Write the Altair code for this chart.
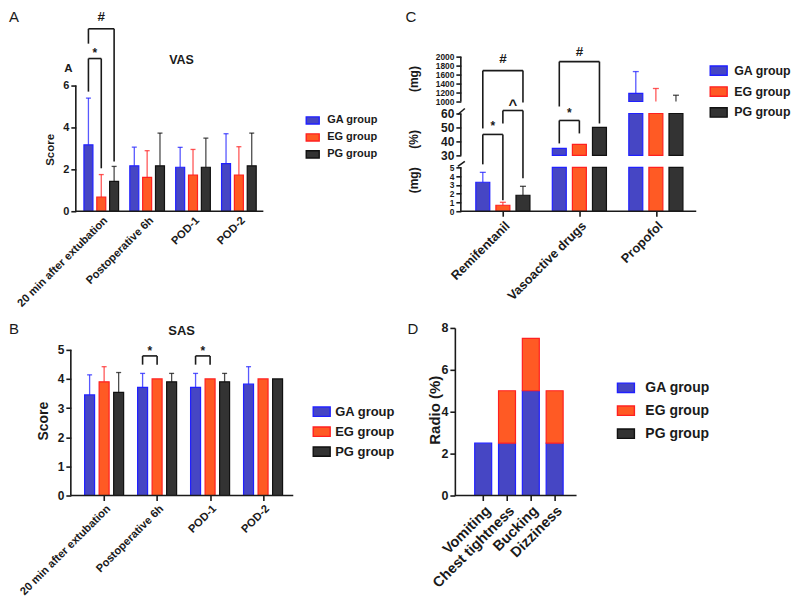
import json
import altair as alt
import pandas as pd

FONT = "Liberation Sans"
INK = "#1a1a1a"
GROUPS = ["GA group", "EG group", "PG group"]
FILL = ["#4646c4", "#ff5a24", "#333333"]
EDGE = ["#2020ff", "#ff2020", "#111111"]
RECT = "M-1,-0.55H1V0.55H-1Z"

# ---------------- Panel A : VAS ----------------
time_points = ["20 min after extubation", "Postoperative 6h", "POD-1", "POD-2"]
vas_ga = [3.17, 2.17, 2.10, 2.27]
vas_ga_sd = [2.23, 0.89, 0.95, 1.43]
vas_eg = [0.68, 1.62, 1.73, 1.73]
vas_eg_sd = [1.07, 1.27, 1.22, 1.35]
vas_pg = [1.43, 2.17, 2.10, 2.17]
vas_pg_sd = [0.71, 1.56, 1.39, 1.56]
vas_ticks = [0, 2, 4, 6]
# brackets: category, group from, group to, top, leg bottoms, label, label height
vas_br_cat = [0, 0]
vas_br_g1 = [0, 0]
vas_br_g2 = [1, 2]
vas_br_top = [7.29, 8.71]
vas_br_low1 = [5.71, 8.0]
vas_br_low2 = [2.05, 2.38]
vas_br_label = ["*", "#"]
vas_br_label_y = [7.55, 9.29]

# ---------------- Panel B : SAS ----------------
sas_ga = [3.45, 3.71, 3.71, 3.82]
sas_ga_sd = [0.69, 0.48, 0.48, 0.60]
sas_eg = [3.90, 4.00, 4.00, 4.00]
sas_eg_sd = [0.52, 0.0, 0.0, 0.0]
sas_pg = [3.54, 3.90, 3.90, 4.00]
sas_pg_sd = [0.68, 0.29, 0.29, 0.0]
sas_ticks = [0, 1, 2, 3, 4, 5]
sas_br_cat = [1, 2]
sas_br_g1 = [0, 0]
sas_br_g2 = [1, 1]
sas_br_top = [4.79, 4.79]
sas_br_low1 = [4.49, 4.49]
sas_br_low2 = [4.49, 4.49]
sas_br_label = ["*", "*"]
sas_br_label_y = [4.95, 4.95]

# ---------------- Panel C : drugs (broken axis) ----------------
drugs = ["Remifentanil", "Vasoactive drugs", "Propofol"]
drug_ga = [3.3, 35.0, 1180]
drug_ga_sd = [1.13, 0.0, 487]
drug_eg = [0.68, 37.9, 1000]
drug_eg_sd = [0.34, 0.0, 290]
drug_pg = [1.82, 50.0, 990]
drug_pg_sd = [1.02, 0.0, 150]
c_seg_lo = [0, 30, 1000]
c_seg_hi = [5, 60, 2000]
c_seg_ticks = [[0, 1, 2, 3, 4, 5], [30, 40, 50, 60], [1000, 1200, 1400, 1600, 1800, 2000]]
c_seg_title = ["(mg)", "(%)", "(mg)"]
# display extent of each axis segment (pixels from the baseline)
c_seg_y0 = [0, 56, 110]
c_seg_y1 = [44, 98, 155]
c_br_cat = [0, 0, 0, 1, 1]
c_br_g1 = [0, 1, 0, 0, 0]
c_br_g2 = [2, 2, 1, 2, 1]
c_br_top = [141, 101, 77, 150, 91]
c_br_low1 = [83, 88, 47, 105, 68]
c_br_low2 = [109, 33, 11, 88, 78]
c_br_label = ["#", "^", "*", "#", "*"]
c_br_label_y = [153, 106, 85, 160, 98]

# ---------------- Panel D : adverse events ----------------
events = ["Vomiting", "Chest tightness", "Bucking", "Dizziness"]
ae_ga = [2.5, 2.5, 5.0, 2.5]
ae_eg = [0.0, 2.5, 2.5, 2.5]
ae_pg = [0.0, 0.0, 0.0, 0.0]
ae_ticks = [0, 2, 4, 6, 8]


def c_disp(v, s):
    return c_seg_y0[s] + (v - c_seg_lo[s]) / (c_seg_hi[s] - c_seg_lo[s]) * (c_seg_y1[s] - c_seg_y0[s])


def long_table(cats, means, sds, offset):
    rows = []
    for gi, g in enumerate(GROUPS):
        for ci, c in enumerate(cats):
            m, s = means[gi][ci], sds[gi][ci]
            rows.append({"cat": c, "group": g, "gi": gi, "pos": ci + (gi - 1) * offset,
                         "val": m, "sd": s, "top": m + s})
    return pd.DataFrame(rows)


def bracket_tables(cat, g1, g2, top, low1, low2, label, label_y, offset):
    segs, labs = [], []
    for k in range(len(cat)):
        p1 = cat[k] + (g1[k] - 1) * offset
        p2 = cat[k] + (g2[k] - 1) * offset
        segs += [
            {"pos": p1, "pos2": p1, "val": low1[k], "top": top[k]},
            {"pos": p1, "pos2": p2, "val": top[k], "top": top[k]},
            {"pos": p2, "pos2": p2, "val": low2[k], "top": top[k]},
        ]
        labs.append({"pos": (p1 + p2) / 2, "val": label_y[k], "t": label[k]})
    return pd.DataFrame(segs), pd.DataFrame(labs)


fill_scale = alt.Scale(domain=GROUPS, range=FILL)
edge_scale = alt.Scale(domain=GROUPS, range=EDGE)


def legend(x, y, size, sym, rowpad, loff):
    return alt.Legend(title=None, orient="none", legendX=x, legendY=y, symbolType=RECT,
                      symbolSize=sym * sym, symbolStrokeWidth=1.4, labelFont=FONT,
                      labelFontWeight="bold", labelFontSize=size, labelColor=INK,
                      rowPadding=rowpad, labelOffset=loff, padding=0)


def x_axis(cats, size, ticks, pad=3):
    return alt.Axis(values=list(range(len(cats))), labelExpr=json.dumps(cats) + "[round(datum.value)]",
                    labelAngle=-45, labelAlign="right", labelBaseline="top", labelFont=FONT,
                    labelFontSize=size, labelFontWeight="bold", labelColor=INK, labelPadding=pad,
                    labelOverlap=False, labelFlush=False, ticks=ticks, tickSize=5, tickWidth=1.6,
                    tickColor=INK, domain=False, grid=False, title=None)


def y_axis(values, title, size, tsize, tx, ty, domain=False, offset=0, expr=None):
    kw = dict(values=values, domain=domain, grid=False, ticks=True, tickSize=5, tickWidth=1.6,
              tickColor=INK, domainColor=INK, domainWidth=1.6, labelFont=FONT,
              labelFontWeight="bold", labelFontSize=size, labelColor=INK, labelPadding=2,
              labelOverlap=False, offset=offset)
    if expr is not None:
        kw["labelExpr"] = expr
    if title:
        kw.update(title=title, titleFont=FONT, titleFontWeight="bold", titleFontSize=tsize,
                  titleColor=INK, titleX=tx, titleY=ty, titleAngle=270, titleBaseline="middle",
                  titleAlign="center")
    else:
        kw["title"] = None
    return alt.Axis(**kw)


def note(text, x, y, size, weight="bold", angle=0):
    return alt.Chart(pd.DataFrame({"t": [text]})).mark_text(
        font=FONT, fontSize=size, fontWeight=weight, color=INK, align="center",
        baseline="middle", angle=angle).encode(x=alt.value(x), y=alt.value(y), text="t:N")


class Frame:
    def __init__(self, xs, ys, xa, ya):
        self.xs, self.ys, self.xa, self.ya = xs, ys, xa, ya

    def X(self, f="pos"):
        return alt.X(f + ":Q", scale=self.xs, axis=self.xa, title=None)

    def Y(self, f="val", **kw):
        return alt.Y(f + ":Q", scale=self.ys, axis=self.ya, **kw)


def error_layers(df, fr, cap=2.5):
    err = df[df["sd"] > 0]
    stem = alt.Chart(err).mark_rule(strokeWidth=1.3, opacity=0.75).encode(
        x=fr.X(), y=fr.Y(), y2="top:Q",
        stroke=alt.Stroke("group:N", scale=edge_scale, legend=None))
    capm = alt.Chart(err).mark_rule(strokeWidth=1.3, opacity=0.75, xOffset=-cap, x2Offset=cap).encode(
        x=fr.X(), x2="pos:Q", y=fr.Y("top"),
        stroke=alt.Stroke("group:N", scale=edge_scale, legend=None))
    return [stem, capm]


def bracket_layers(segs, labs, fr):
    br = alt.Chart(segs).mark_rule(strokeWidth=1.6, color=INK).encode(
        x=fr.X(), x2="pos2:Q", y=fr.Y(), y2="top:Q")
    lab = alt.Chart(labs).mark_text(font=FONT, fontWeight="bold", color=INK, baseline="middle").encode(
        x=fr.X(), y=fr.Y(), text="t:N",
        size=alt.Size("t:N", scale=alt.Scale(domain=["*", "#", "^"], range=[12, 15, 13]), legend=None))
    return [br, lab]


def vline(lo, hi, fr, x=0):
    return alt.Chart(pd.DataFrame({"val": [lo], "top": [hi]})).mark_rule(strokeWidth=1.6, color=INK).encode(
        x=alt.value(x), y=fr.Y(), y2="top:Q")


def hline(fr, x0, x1):
    return alt.Chart(pd.DataFrame({"val": [0]})).mark_rule(strokeWidth=1.6, color=INK).encode(
        x=alt.value(x0), x2=alt.value(x1), y=fr.Y())


# ---------------- build panel A ----------------
a_df = long_table(time_points, [vas_ga, vas_eg, vas_pg], [vas_ga_sd, vas_eg_sd, vas_pg_sd], 0.28)
a_fr = Frame(alt.Scale(domain=[-0.446, 4.077], nice=False, zero=False),
             alt.Scale(domain=[0, 9], nice=False),
             x_axis(time_points, 11.2, False),
             y_axis(vas_ticks, "Score", 11, 11.5, -25, 127))
a_leg = legend(230, 90.5, 11, 13, 3, 7)
a_bars = alt.Chart(a_df).mark_bar(size=9, strokeWidth=1.2).encode(
    x=a_fr.X(), y=a_fr.Y(),
    color=alt.Color("group:N", scale=fill_scale, legend=a_leg),
    stroke=alt.Stroke("group:N", scale=edge_scale, legend=a_leg))
a_segs, a_labs = bracket_tables(vas_br_cat, vas_br_g1, vas_br_g2, vas_br_top, vas_br_low1,
                                vas_br_low2, vas_br_label, vas_br_label_y, 0.28)
panel_a = alt.layer(
    a_bars, *error_layers(a_df, a_fr), *bracket_layers(a_segs, a_labs, a_fr),
    vline(min(vas_ticks), max(vas_ticks), a_fr), hline(a_fr, 0, 188),
    note("A", -62, -6, 15, "normal"), note("VAS", 106, 37, 12.5), note("A", -7.5, 46.5, 11.5),
).properties(width=218, height=189)

# ---------------- build panel C ----------------
c_rows = []
c_err = []
for gi, (vals, sds) in enumerate([(drug_ga, drug_ga_sd), (drug_eg, drug_eg_sd), (drug_pg, drug_pg_sd)]):
    for ci, c in enumerate(drugs):
        v, sd = vals[ci], sds[ci]
        pos = ci + (gi - 1) * 0.2625
        for s in range(3):
            if v > c_seg_lo[s]:
                c_rows.append({"group": GROUPS[gi], "pos": pos, "val": c_disp(c_seg_lo[s], s),
                               "top": c_disp(min(v, c_seg_hi[s]), s)})
        if sd > 0:
            t = v + sd
            s = [k for k in range(3) if c_seg_lo[k] <= t <= c_seg_hi[k]][0]
            c_err.append({"group": GROUPS[gi], "pos": pos, "val": c_disp(max(v, c_seg_lo[s]), s),
                          "top": c_disp(t, s), "sd": sd})
c_df = pd.DataFrame(c_rows)
c_err_df = pd.DataFrame(c_err)
c_tick_pos = [c_disp(v, s) for s in range(3) for v in c_seg_ticks[s]]
parts = []
for s in range(3):
    k = (c_seg_hi[s] - c_seg_lo[s]) / (c_seg_y1[s] - c_seg_y0[s])
    parts.append(f"'' + round({c_seg_lo[s]} + (datum.value - {c_seg_y0[s]}) * {k})")
c_expr = (f"datum.value <= {c_seg_y1[0] + 2} ? {parts[0]} : "
          f"datum.value <= {c_seg_y1[1] + 2} ? {parts[1]} : {parts[2]}")
c_mid_test = f"datum.value > {c_seg_y1[0] + 2} && datum.value <= {c_seg_y1[1] + 2}"
C_AX = 6  # y axis sits 6px inside the panel frame
c_yaxis = y_axis(c_tick_pos, None, 11, 12, 0, 0, offset=-C_AX, expr=c_expr)
c_yaxis["labelFontSize"] = {"condition": {"test": c_mid_test, "value": 12}, "value": 8.4}
c_fr = Frame(alt.Scale(domain=[-0.5625, 2.4625], nice=False, zero=False),
             alt.Scale(domain=[0, 189], nice=False),
             x_axis(drugs, 12.8, True), c_yaxis)
c_leg = legend(255, 38.5, 12.4, 17, 4, 6)
c_bars = alt.Chart(c_df).mark_bar(size=14, strokeWidth=1.2).encode(
    x=c_fr.X(), y=c_fr.Y(), y2="top:Q",
    color=alt.Color("group:N", scale=fill_scale, legend=c_leg),
    stroke=alt.Stroke("group:N", scale=edge_scale, legend=c_leg))
c_axis = alt.Chart(pd.DataFrame({"val": c_seg_y0, "top": c_seg_y1})).mark_rule(
    strokeWidth=1.6, color=INK).encode(x=alt.value(C_AX), y=c_fr.Y(), y2="top:Q")
c_break = alt.Chart(pd.DataFrame({"val": [c_seg_y1[0] + 1, c_seg_y1[1] - 1],
                                  "top": [c_seg_y1[0] + 6, c_seg_y1[1] + 5]})).mark_rule(
    strokeWidth=1.6, color=INK).encode(x=alt.value(C_AX - 3), x2=alt.value(C_AX + 4),
                                       y=c_fr.Y(), y2="top:Q")
c_segs, c_labs = bracket_tables(c_br_cat, c_br_g1, c_br_g2, c_br_top, c_br_low1, c_br_low2,
                                c_br_label, c_br_label_y, 0.2625)
c_titles = [note(c_seg_title[s], -41, 189 - (c_seg_y0[s] + c_seg_y1[s]) / 2 + [-9, 5, 0][s], 12,
                 angle=270) for s in range(3)]
panel_c = alt.layer(
    c_bars, *error_layers(c_err_df, c_fr, 3), *bracket_layers(c_segs, c_labs, c_fr),
    c_axis, c_break, hline(c_fr, C_AX, 242), *c_titles, note("C", -44, -6, 15, "normal"),
).properties(width=242, height=189)

# ---------------- build panel B ----------------
b_df = long_table(time_points, [sas_ga, sas_eg, sas_pg], [sas_ga_sd, sas_eg_sd, sas_pg_sd], 0.274)
b_fr = Frame(alt.Scale(domain=[-0.44, 3.476], nice=False, zero=False),
             alt.Scale(domain=[0, 5.75], nice=False),
             x_axis(time_points, 11.2, True, pad=2),
             y_axis(sas_ticks, "Score", 12, 14, -27.5, 93, offset=5))
b_leg = legend(237, 74.5, 13, 17, 3, 4)
b_bars = alt.Chart(b_df).mark_bar(size=10, strokeWidth=1.2).encode(
    x=b_fr.X(), y=b_fr.Y(),
    color=alt.Color("group:N", scale=fill_scale, legend=b_leg),
    stroke=alt.Stroke("group:N", scale=edge_scale, legend=b_leg))
b_segs, b_labs = bracket_tables(sas_br_cat, sas_br_g1, sas_br_g2, sas_br_top, sas_br_low1,
                                sas_br_low2, sas_br_label, sas_br_label_y, 0.274)
panel_b = alt.layer(
    b_bars, *error_layers(b_df, b_fr), *bracket_layers(b_segs, b_labs, b_fr),
    vline(min(sas_ticks), max(sas_ticks), b_fr, -5), hline(b_fr, -5, 218),
    note("B", -62, 1, 15, "normal"), note("SAS", 106, 3, 13),
).properties(width=218, height=168)

# ---------------- build panel D ----------------
d_rows = []
for gi, vals in enumerate([ae_ga, ae_eg, ae_pg]):
    for ci, c in enumerate(events):
        if vals[ci] > 0:
            d_rows.append({"group": GROUPS[gi], "gi": gi, "pos": ci, "val": vals[ci]})
d_df = pd.DataFrame(d_rows)
d_fr = Frame(alt.Scale(domain=[-0.98, 3.71], nice=False, zero=False),
             alt.Scale(domain=[0, 8], nice=False),
             x_axis(events, 14.5, True),
             y_axis(ae_ticks, "Radio (%)", 12.5, 15, -20.5, 82, domain=True))
d_leg = legend(162, 50.5, 14, 17, 6, 10)
d_bars = alt.Chart(d_df).mark_bar(size=17, strokeWidth=1.2).encode(
    x=d_fr.X(), y=d_fr.Y(stack="zero"),
    order=alt.Order("gi:Q"),
    color=alt.Color("group:N", scale=fill_scale, legend=d_leg),
    stroke=alt.Stroke("group:N", scale=edge_scale, legend=d_leg))
panel_d = alt.layer(d_bars, hline(d_fr, 0, 122), note("D", -42, 1.5, 15, "normal")).properties(
    width=122, height=168)

RES = dict(color="independent", stroke="independent", size="independent")
chart = alt.concat(panel_a, panel_c, panel_b, panel_d, columns=2,
                   spacing=alt.RowColnumber(row=117, column=162), bounds="flush").resolve_scale(
    **RES).resolve_legend(color="independent", stroke="independent").configure_view(
    stroke=None).properties(padding={"left": 0, "top": 0, "right": 0, "bottom": 0}, background="white")

chart.save("out.html", embed_options={"renderer": "svg", "actions": False})
